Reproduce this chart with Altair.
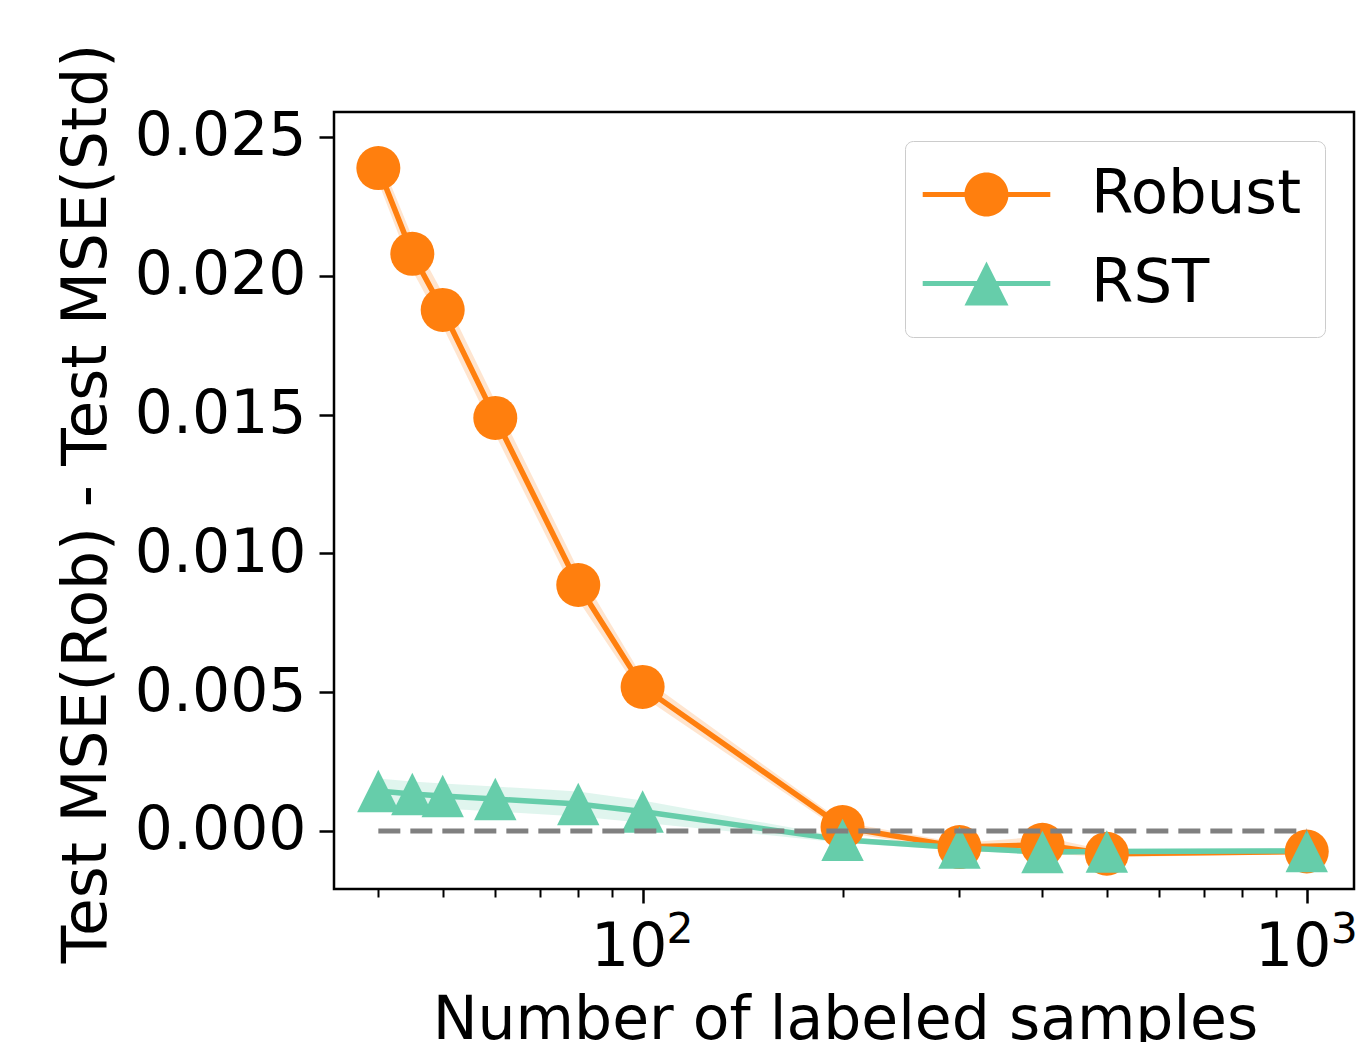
import altair as alt
import pandas as pd

# ---- data ----
n_labeled = [40, 45, 50, 60, 80, 100, 200, 300, 400, 500, 1000]
robust_mean = [0.02388, 0.02079, 0.01877, 0.01488, 0.00886, 0.00519,
               0.00014, -0.00058, -0.00050, -0.00082, -0.00074]
robust_std = [0.00050, 0.00060, 0.00060, 0.00060, 0.00055, 0.00035,
              0.00018, 0.00015, 0.00030, 0.00012, 0.00010]
rst_mean = [0.00144, 0.00133, 0.00126, 0.00115, 0.00097, 0.00070,
            -0.00032, -0.00060, -0.00076, -0.00074, -0.00072]
rst_std = [0.00045, 0.00045, 0.00045, 0.00045, 0.00045, 0.00040,
           0.00010, 0.00010, 0.00010, 0.00010, 0.00010]
series_names = ["Robust", "RST"]
series_colors = ["#ff7f0e", "#66cdaa"]
y_ticks = [0.0, 0.005, 0.010, 0.015, 0.020, 0.025]
x_major = [100, 1000]
x_minor = [40, 50, 60, 70, 80, 90, 200, 300, 400, 500, 600, 700, 800, 900]
zero_line_x = [40]
zero_line_x2 = [1000]
zero_line_y = [0.0]

rows = []
for name, means, stds in [("Robust", robust_mean, robust_std), ("RST", rst_mean, rst_std)]:
    for n, m, s in zip(n_labeled, means, stds):
        rows.append({"series": name, "n": n, "mean": m, "lo": m - s, "hi": m + s})
df = pd.DataFrame(rows)

legend_df = pd.DataFrame({"entry": series_names,
                          "n": [n_labeled[0]] * 2,
                          "mean": [robust_mean[0], rst_mean[0]]})
zero_df = pd.DataFrame({"x": zero_line_x, "x2": zero_line_x2, "y": zero_line_y})

FONT = "DejaVu Sans"
LFS = 60      # tick labels
LEGFS = 61    # legend labels
TFS = 61.5    # y axis title
XTFS = 60     # x axis title
SUPFS = 42.5  # exponent

# marker shapes (custom SVG paths, unit = half the nominal symbol width)
tri_path = "M0,-1L1,1L-1,1Z"
circ = ("M-1,0 C-1,-0.5523 -0.5523,-1 0,-1 C0.5523,-1 1,-0.5523 1,0 "
        "C1,0.5523 0.5523,1 0,1 C-0.5523,1 -1,0.5523 -1,0 Z")
bars_c = ("M-2.9,-0.11 L-0.9,-0.11 L-0.9,0.11 L-2.9,0.11 Z "
          "M0.9,-0.11 L2.9,-0.11 L2.9,0.11 L0.9,0.11 Z")
bars_t = ("M-2.9,-0.11 L-0.4,-0.11 L-0.4,0.11 L-2.9,0.11 Z "
          "M0.4,-0.11 L2.9,-0.11 L2.9,0.11 L0.4,0.11 Z")
legend_circle = bars_c + " " + circ
legend_tri = bars_t + " " + tri_path

xscale = alt.Scale(type="log", domain=[34.3, 1178], nice=False)
yscale = alt.Scale(domain=[-0.00209, 0.0259], nice=False, zero=False)
cscale = alt.Scale(domain=series_names, range=series_colors)

y_axis = alt.Axis(values=y_ticks, format=".3f", title="Test MSE(Rob) - Test MSE(Std)",
                  grid=False, domain=False, tickSize=15, tickWidth=2.5, tickColor="black",
                  labelFontSize=LFS, titleFontSize=TFS, labelFont=FONT, titleFont=FONT,
                  labelColor="black", titleColor="black", titleFontWeight="normal",
                  labelPadding=13, titleBaseline="alphabetic", titleAngle=270,
                  titleX=-229, titleY=391, titleAlign="center")
# major ticks, "10" mantissa + title
x_major_axis = alt.Axis(values=x_major, orient="bottom", title="Number of labeled samples",
                        labelExpr="'10'",
                        grid=False, domain=False, tickSize=14, tickWidth=2.5, tickColor="black",
                        labelFontSize=LFS, titleFontSize=XTFS, labelFont=FONT, titleFont=FONT,
                        labelColor="black", titleColor="black", titleFontWeight="normal",
                        labelBaseline="alphabetic", labelPadding=62, labelAlign="center",
                        labelOffset=-14, labelFlush=False, labelOverlap=False,
                        titleBaseline="alphabetic", titleY=149, titleX=511, titleAlign="center")
# exponent as smaller raised text
x_sup_axis = alt.Axis(values=x_major, orient="bottom", title=None,
                      labelExpr="datum.value == 100 ? '2' : '3'",
                      grid=False, domain=False, tickSize=14, tickOpacity=0,
                      labelFontSize=SUPFS, labelFont=FONT, labelColor="black",
                      labelBaseline="alphabetic", labelPadding=39, labelAlign="center",
                      labelOffset=37, labelFlush=False, labelOverlap=False)
x_minor_axis = alt.Axis(values=x_minor, orient="bottom", title=None, labels=False,
                        grid=False, domain=False, tickSize=8, tickWidth=2, tickColor="black")

base = alt.Chart(df)

band = base.mark_area(opacity=0.2).encode(
    x=alt.X("n:Q", scale=xscale, axis=None),
    y=alt.Y("lo:Q", scale=yscale, axis=y_axis),
    y2="hi:Q",
    color=alt.Color("series:N", scale=cscale, legend=None),
    detail="series:N",
)

line = base.mark_line(strokeWidth=5.5).encode(
    x=alt.X("n:Q", scale=xscale, axis=x_sup_axis),
    y=alt.Y("mean:Q", scale=yscale, axis=y_axis),
    color=alt.Color("series:N", scale=cscale, legend=None),
    order=alt.Order("n:Q"),
)

points = base.mark_point(filled=True, opacity=1, strokeWidth=0).encode(
    x=alt.X("n:Q", scale=xscale, axis=x_major_axis),
    y=alt.Y("mean:Q", scale=yscale, axis=y_axis),
    color=alt.Color("series:N", scale=cscale, legend=None),
    shape=alt.Shape("series:N", scale=alt.Scale(domain=series_names, range=["circle", tri_path]),
                    legend=None),
    size=alt.Size("series:N", scale=alt.Scale(domain=series_names, range=[1936, 1800]),
                  legend=None),
)

leg = alt.Legend(title=None, orient="top-right", offset=29, labelFont=FONT, labelFontSize=LEGFS,
                 labelColor="black", labelLimit=1000, symbolSize=1936, symbolStrokeWidth=0,
                 symbolOpacity=1, symbolOffset=28, labelOffset=74, rowPadding=27, padding=23,
                 strokeColor="#cccccc", fillColor="white", cornerRadius=8)

legend_layer = alt.Chart(legend_df).mark_point(filled=True, size=0, strokeWidth=0).encode(
    x=alt.X("n:Q", scale=xscale, axis=None),
    y=alt.Y("mean:Q", scale=yscale, axis=y_axis),
    color=alt.Color("entry:N", scale=alt.Scale(domain=series_names, range=series_colors), legend=leg),
    shape=alt.Shape("entry:N", scale=alt.Scale(domain=series_names, range=[legend_circle, legend_tri]),
                    legend=leg),
)

zero_rule = alt.Chart(zero_df).mark_rule(color="#808080", strokeWidth=5, strokeDash=[22, 10]).encode(
    x=alt.X("x:Q", scale=xscale, axis=x_minor_axis),
    x2="x2:Q",
    y=alt.Y("y:Q", scale=yscale, axis=y_axis),
)

chart = alt.layer(band, line, points, legend_layer, zero_rule).resolve_scale(
    color="independent", shape="independent", size="independent"
).resolve_axis(x="independent").properties(
    width=1020, height=777,
    autosize=alt.AutoSizeParams(type="none"),
    padding={"left": 334, "top": 112, "right": 4, "bottom": 153},
).configure_view(stroke="black", strokeWidth=2.5)

chart.save("out.html", embed_options={"renderer": "svg", "actions": False})
